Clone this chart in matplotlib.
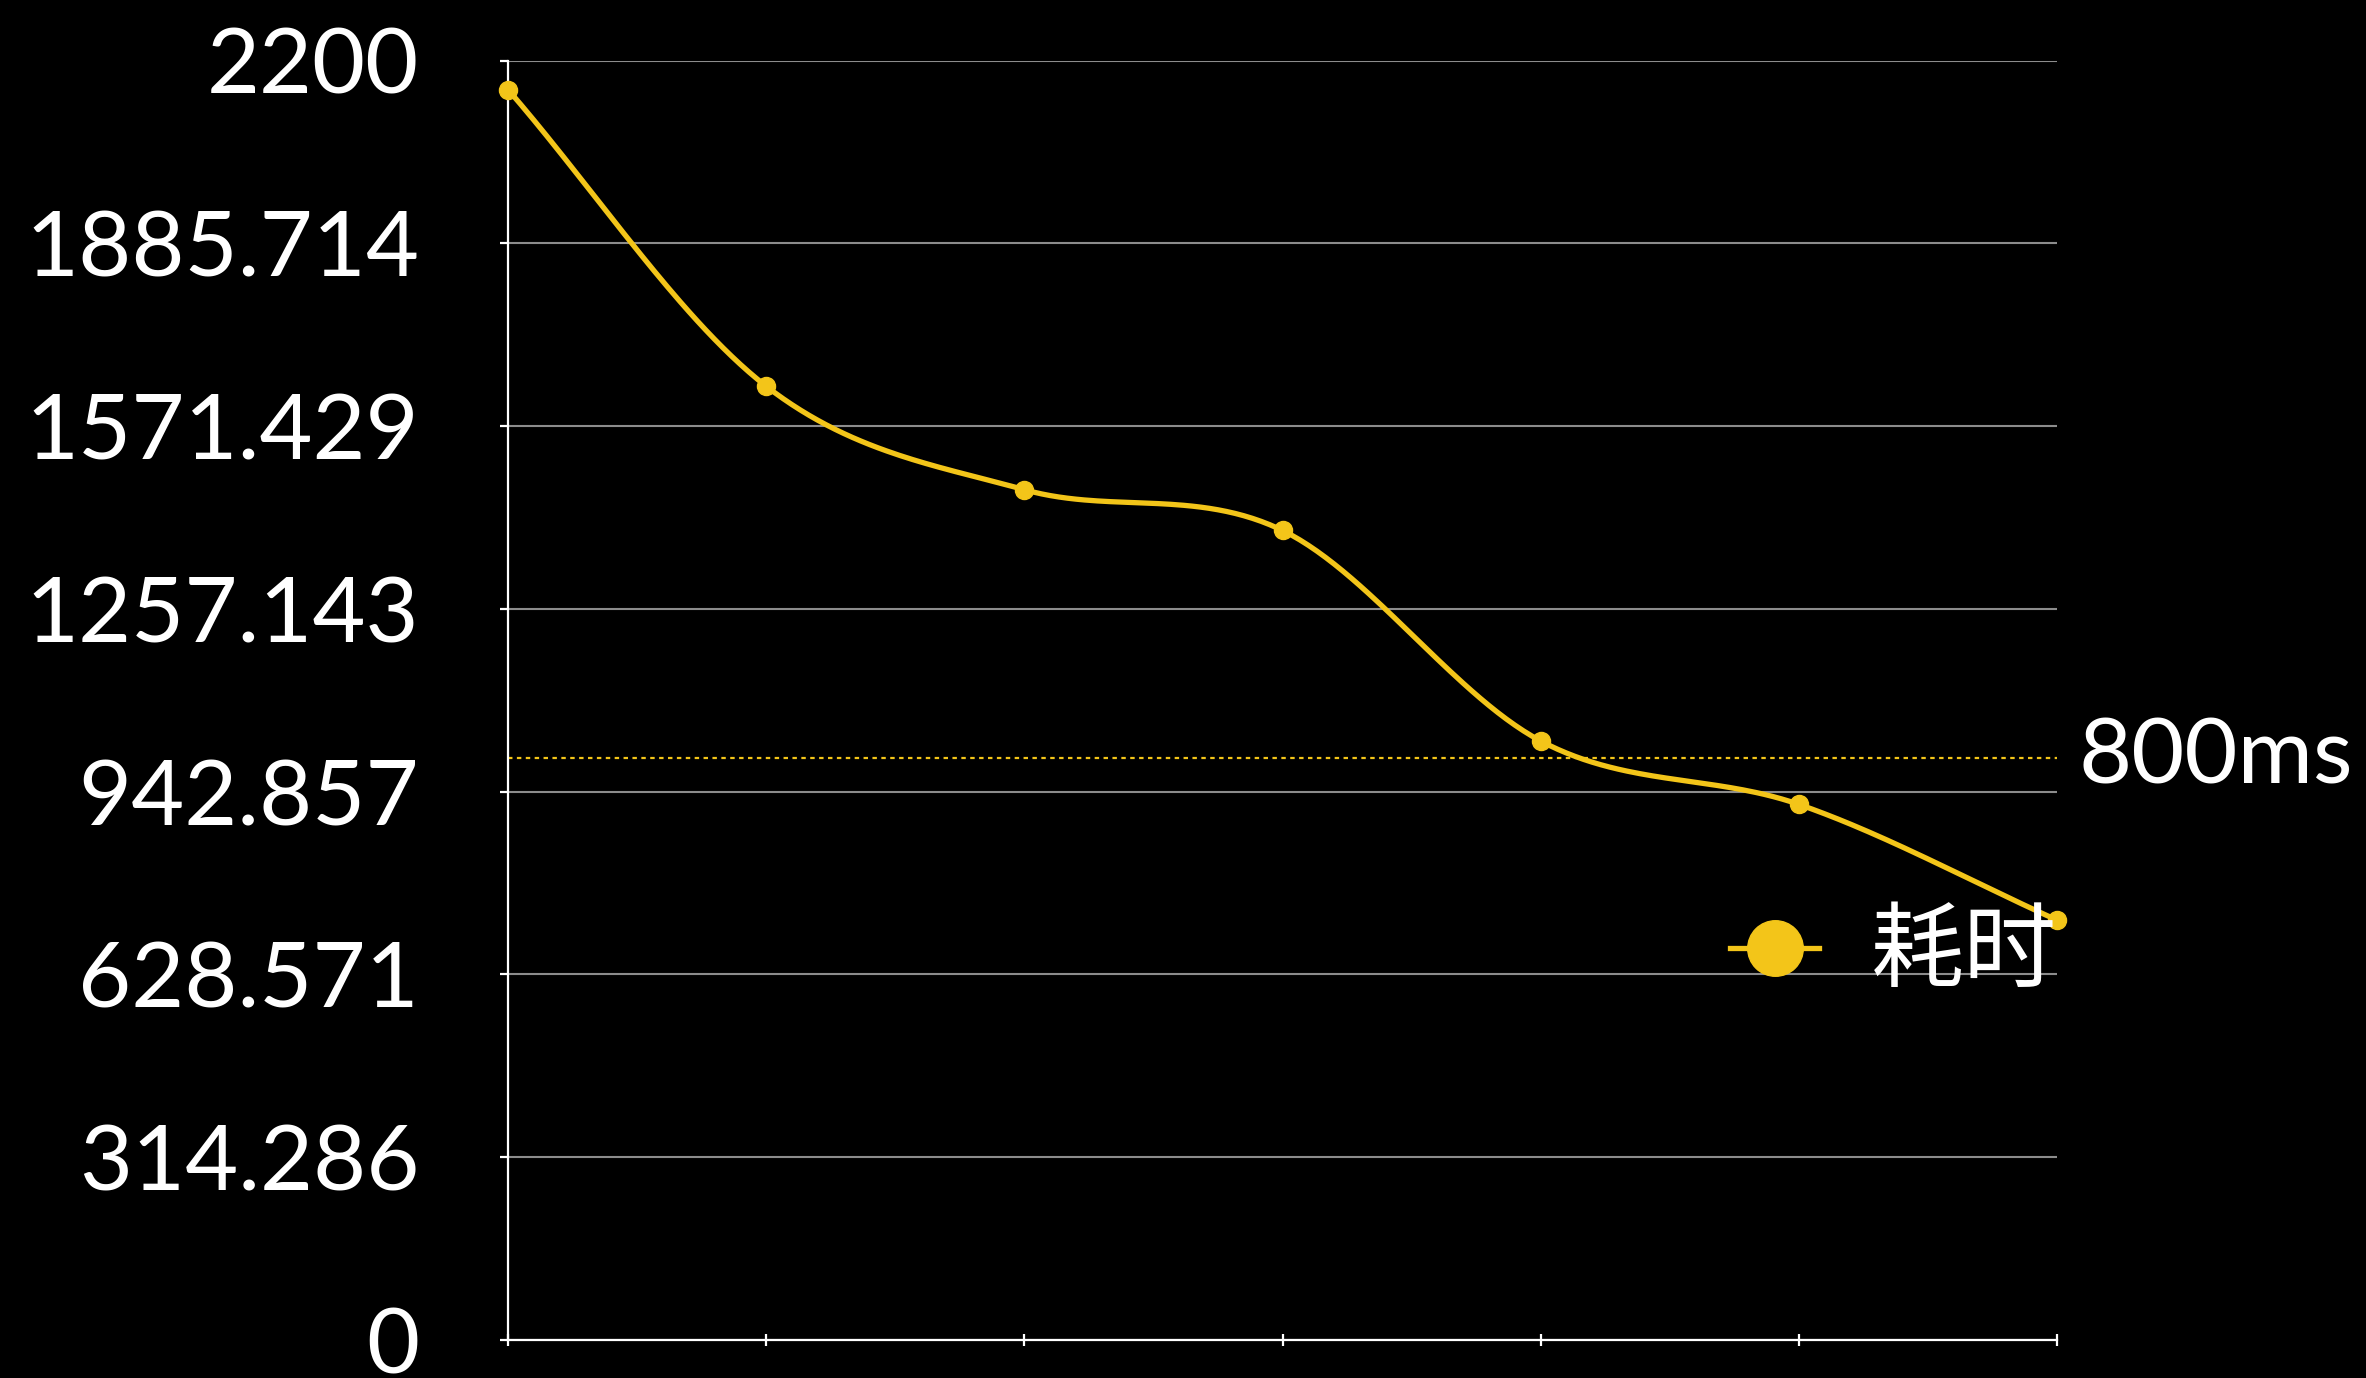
import numpy as np
import matplotlib
matplotlib.use("Agg")
import matplotlib.pyplot as plt
from matplotlib.lines import Line2D

# Series data
steps = [0, 1, 2, 3, 4, 5, 6]
durations = [2150, 1640, 1462, 1392, 1030, 921, 722]
series_name = "耗时"

# Y axis settings
y_max = 2200
n_intervals = 7
y_ticks = [y_max * i / n_intervals for i in range(n_intervals + 1)]
y_tick_labels = ["0", "314.286", "628.571", "942.857", "1257.143",
                 "1571.429", "1885.714", "2200"]

# Reference line
threshold_value = 1000
threshold_label = "800ms"

YELLOW = "#F3C519"
GRID = "#8c8c8c"
FONT = ["Lato", "Noto Sans CJK SC", "DejaVu Sans"]
plt.rcParams["font.family"] = FONT


def catmull_rom(x, y, samples=60):
    """Smooth curve through the given points (Catmull-Rom)."""
    x = np.asarray(x, float)
    y = np.asarray(y, float)
    n = len(x)
    m = np.zeros(n)
    for i in range(n):
        if i == 0:
            m[i] = (y[1] - y[0]) / (x[1] - x[0])
        elif i == n - 1:
            m[i] = (y[-1] - y[-2]) / (x[-1] - x[-2])
        else:
            m[i] = (y[i + 1] - y[i - 1]) / (x[i + 1] - x[i - 1])
    xs, ys = [], []
    for i in range(n - 1):
        h = x[i + 1] - x[i]
        t = np.linspace(0, 1, samples, endpoint=(i == n - 2))
        h00 = 2 * t**3 - 3 * t**2 + 1
        h10 = t**3 - 2 * t**2 + t
        h01 = -2 * t**3 + 3 * t**2
        h11 = t**3 - t**2
        xs.append(x[i] + t * h)
        ys.append(h00 * y[i] + h10 * h * m[i] + h01 * y[i + 1] + h11 * h * m[i + 1])
    return np.concatenate(xs), np.concatenate(ys)


fig = plt.figure(figsize=(23.66, 13.78), dpi=100, facecolor="black")
ax = fig.add_axes([508 / 2366, 1 - 1340 / 1378, (2057 - 508) / 2366, (1340 - 60.5) / 1378])
ax.set_facecolor("black")

ax.set_xlim(steps[0], steps[-1])
ax.set_ylim(0, y_max)

# Horizontal grid
ax.set_yticks(y_ticks)
ax.set_yticklabels(y_tick_labels)
ax.yaxis.grid(True, color=GRID, linewidth=1.5)
ax.set_axisbelow(True)

ax.set_xticks(steps)
ax.set_xticklabels([])

for side in ("top", "right"):
    ax.spines[side].set_visible(False)
for side in ("left", "bottom"):
    ax.spines[side].set_color("white")
    ax.spines[side].set_linewidth(1.6)

ax.tick_params(axis="y", colors="white", length=6, width=1.6, pad=58,
               labelsize=66, labelcolor="white")
ax.tick_params(axis="x", colors="white", length=8, width=1.6, direction="inout")

# Threshold line
ax.axhline(threshold_value, color=YELLOW, linestyle=(0, (2, 2)), linewidth=1.6, zorder=2)
ax.text(1.014, threshold_value, threshold_label, transform=ax.get_yaxis_transform(),
        color="white", fontsize=66, va="center", ha="left", clip_on=False)

# Smooth series line with point markers
sx, sy = catmull_rom(steps, durations)
ax.plot(sx, sy, color=YELLOW, linewidth=3.8, zorder=3, clip_on=False,
        solid_capstyle="round")
ax.plot(steps, durations, linestyle="none", marker="o", markersize=13,
        color=YELLOW, zorder=4, clip_on=False)

# Legend
handle = Line2D([], [], color=YELLOW, linewidth=3.8, marker="o", markersize=40)
leg = ax.legend([handle], [series_name], loc="center right",
                bbox_to_anchor=(1.0, 0.302), frameon=False, borderaxespad=0,
                borderpad=0, handlelength=0.95, handletextpad=0.56,
                prop={"family": FONT, "size": 67})
for t in leg.get_texts():
    t.set_color("white")

fig.savefig("out.png", dpi=100, facecolor="black")
